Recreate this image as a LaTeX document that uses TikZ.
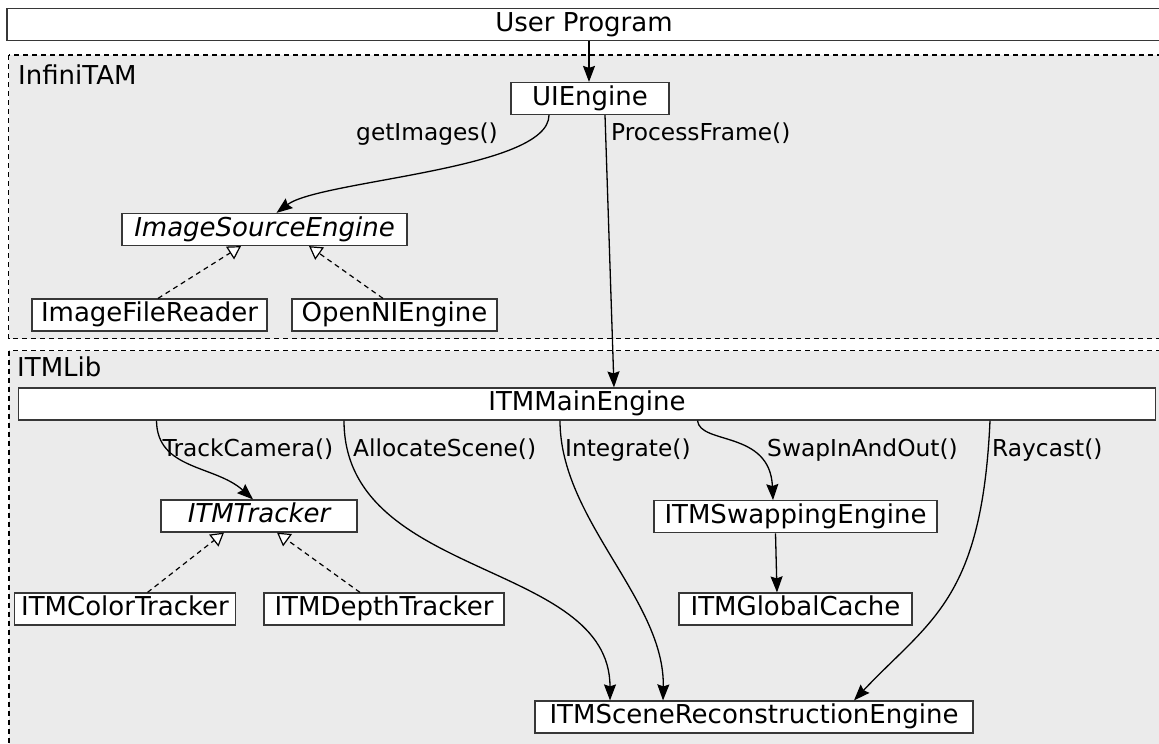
\documentclass[tikz,border=0pt]{standalone}
\usepackage{fontspec}
\setmainfont{DejaVu Sans}
\usetikzlibrary{arrows.meta}
\definecolor{bg}{RGB}{235,235,235}
\definecolor{boxline}{RGB}{55,55,55}
\begin{document}
\begin{tikzpicture}[x=1pt,y=-1pt,
  txt/.style={font=\fontsize{26}{31}\selectfont},
  cls/.style={txt, draw=boxline, line width=1.2pt, fill=white, minimum height=32pt,
    inner sep=0pt, text height=19.5pt, text depth=6pt},
  reg/.style={txt, anchor=base west, inner sep=0pt},
  lbl/.style={font=\fontsize{23.3}{28}\selectfont, anchor=base west, inner sep=0pt},
  call/.style={-{Stealth[length=16pt,width=12pt,inset=2pt]}, line width=1.3pt},
  inh/.style={-{Triangle[open,length=13pt,width=15pt,fill=white,line width=1.2pt]}, line width=1.2pt,
    dash pattern=on 5pt off 4pt},
  region/.style={draw=black, line width=1.2pt, dash pattern=on 5pt off 4pt, fill=bg}]
\useasboundingbox (0,0) rectangle (1159,744);
\fill[white] (0,0) rectangle (1159,744);
% regions
\draw[region] (8.5,55) rectangle (1170,338.5);
\draw[region] (9,350.5) rectangle (1170,760);
\node[reg] (infinitam) at (18,84) {InfiniTAM};
\node[reg] (itmlib) at (17,376) {ITMLib};
% nodes
\node[cls, minimum width=1154pt] (top) at (584,24.5) {User Program};
\node[cls, minimum width=158pt] (ui) at (590,98.5) {UIEngine};
\node[cls, minimum width=285pt] (ise) at (264.5,229.5) {\itshape ImageSourceEngine};
\node[cls, minimum width=235pt] (ifr) at (149.5,315) {ImageFileReader};
\node[cls, minimum width=205pt] (oni) at (394.5,315) {OpenNIEngine};
\node[cls, minimum width=1137pt] (main) at (587,404) {ITMMainEngine};
\node[cls, minimum width=196pt] (tracker) at (259,516) {\itshape ITMTracker};
\node[cls, minimum width=221pt] (ct) at (125,609) {ITMColorTracker};
\node[cls, minimum width=240pt] (dt) at (384,609) {ITMDepthTracker};
\node[cls, minimum width=283pt] (swap) at (795.5,516.7) {ITMSwappingEngine};
\node[cls, minimum width=233pt] (cache) at (795.5,609) {ITMGlobalCache};
\node[cls, minimum width=438pt] (scene) at (754,717) {ITMSceneReconstructionEngine};
% connectors
\draw[call] ([xshift=5pt]top.south) -- ([xshift=-1pt]ui.north);
\draw[call] ([xshift=-41pt]ui.south) .. controls (549,170) and (320,180) .. ([xshift=12pt]ise.north);
\draw[call] ([xshift=15pt]ui.south) -- ([xshift=27pt]main.north);
\draw[inh] ([xshift=8.5pt]ifr.north) -- ([xshift=-23.5pt]ise.south);
\draw[inh] ([xshift=-11.5pt]oni.north) -- ([xshift=44.5pt]ise.south);
\draw[call] ([xshift=-430.5pt]main.south) .. controls (157,470) and (215,465) .. ([xshift=-6pt]tracker.north);
\draw[call] ([xshift=-243pt]main.south) .. controls (344,580) and (610,560) .. ([xshift=-144pt]scene.north);
\draw[call] ([xshift=-27pt]main.south) .. controls (560,520) and (665,600) .. ([xshift=-91pt]scene.north);
\draw[call] ([xshift=110.5pt]main.south) .. controls (700,445) and (770,430) .. ([xshift=-22.5pt]swap.north);
\draw[call] ([xshift=403pt]main.south) .. controls (982,600) and (930,620) .. ([xshift=100pt]scene.north);
\draw[call] ([xshift=-20pt]swap.south) -- ([xshift=-18.5pt]cache.north);
\draw[inh] ([xshift=22.5pt]ct.north) -- ([xshift=-35pt]tracker.south);
\draw[inh] ([xshift=-24pt]dt.north) -- ([xshift=18pt]tracker.south);
% labels
\node[lbl] (lgi) at (356,140) {getImages()};
\node[lbl] (lpf) at (611,140) {ProcessFrame()};
\node[lbl] (ltc) at (162.5,456) {TrackCamera()};
\node[lbl] (las) at (353,456) {AllocateScene()};
\node[lbl] (lin) at (565,456) {Integrate()};
\node[lbl] (lsw) at (767,456) {SwapInAndOut()};
\node[lbl] (lrc) at (992,456) {Raycast()};
\end{tikzpicture}
\end{document}
